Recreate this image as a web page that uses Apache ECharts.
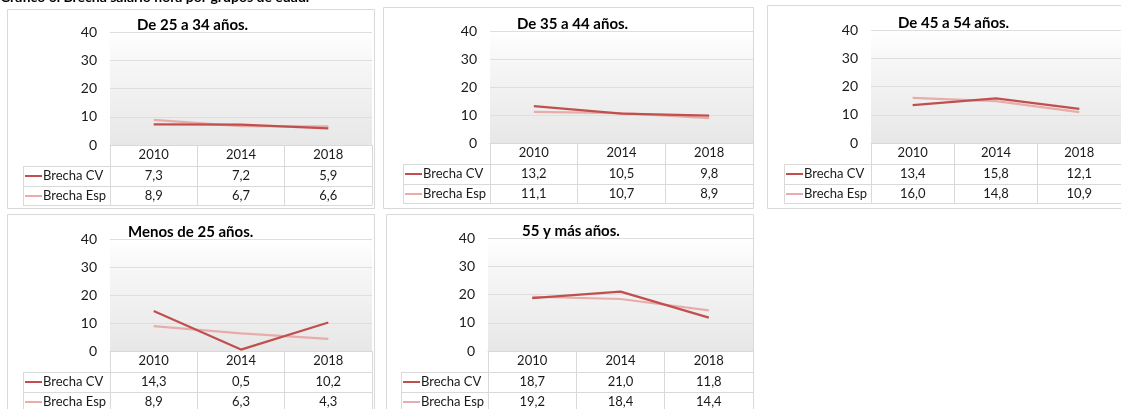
<!DOCTYPE html>
<html>
<head>
<meta charset="utf-8">
<script src="https://cdn.jsdelivr.net/npm/echarts@6/dist/echarts.min.js"></script>
<style>
  html, body { margin: 0; padding: 0; background: #fff; }
  #chart { width: 1121px; height: 409px; }
</style>
</head>
<body>
<div id="chart"></div>
<script>
// data
const heading = 'Gráfico 6. Brecha salario hora por grupos de edad.'
const years = ['2010', '2014', '2018']
const groups = ['De 25 a 34 años.', 'De 35 a 44 años.', 'De 45 a 54 años.', 'Menos de 25 años.', '55 y más años.']
const seriesNames = ['Brecha CV', 'Brecha Esp']
const brechaCV = [
  [7.3, 7.2, 5.9],
  [13.2, 10.5, 9.8],
  [13.4, 15.8, 12.1],
  [14.3, 0.5, 10.2],
  [18.7, 21.0, 11.8]
]
const brechaEsp = [
  [8.9, 6.7, 6.6],
  [11.1, 10.7, 8.9],
  [16.0, 14.8, 10.9],
  [8.9, 6.3, 4.3],
  [19.2, 18.4, 14.4]
]
const yTicks = [0, 10, 20, 30, 40]

;(function () {
  const chart = echarts.init(document.getElementById('chart'))

  // panel geometry: box + plot area
  const panels = [
    { box: [7, 9, 367, 199], plot: [110, 32, 262, 113], titleDx: 27 },
    { box: [383, 7, 370, 201], plot: [490, 31, 263, 112], titleDx: 27 },
    { box: [767, 5, 370, 203], plot: [871, 30, 262, 113], titleDx: 27 },
    { box: [7, 214, 367, 210], plot: [110, 239, 262, 112], titleDx: 18 },
    { box: [386, 214, 367, 210], plot: [488, 238, 265, 113], titleDx: 34 }
  ]

  const colors = ['#c0504d', '#e8adab']
  const font = 'Lato, "Open Sans", sans-serif'
  const lineCol = '#d9d9d9'
  const fmt = v => v.toFixed(1).replace('.', ',')

  const grid = [], xAxis = [], yAxis = [], series = []
  const graphic = []

  graphic.push({
    type: 'text', left: 0, top: -10, z: 10,
    style: { text: heading, font: 'bold 14px ' + font, fill: '#000' }
  })

  panels.forEach(function (p, i) {
    const [bx, by, bw, bh] = p.box
    const [L, T, W, H] = p.plot
    const B = T + H
    const tl = L - 87

    graphic.push({
      type: 'rect', z: -1,
      shape: { x: bx + 0.5, y: by + 0.5, width: bw, height: bh },
      style: { fill: '#fff', stroke: lineCol, lineWidth: 1 }
    })
    graphic.push({
      type: 'text', x: L + p.titleDx, y: T - 7, z: 10,
      style: { text: groups[i], font: 'bold 15px ' + font, fill: '#000', textVerticalAlign: 'middle' }
    })
    // table horizontal rules
    ;[21, 41, 60].forEach(function (dy) {
      graphic.push({
        type: 'line', z: 5,
        shape: { x1: tl, y1: B + dy + 0.5, x2: L + W, y2: B + dy + 0.5 },
        style: { stroke: lineCol, lineWidth: 1 }
      })
    })
    graphic.push({
      type: 'line', z: 5,
      shape: { x1: tl + 0.5, y1: B + 21, x2: tl + 0.5, y2: B + 60 },
      style: { stroke: lineCol, lineWidth: 1 }
    })
    seriesNames.forEach(function (name, k) {
      const cy = B + 31 + k * 20
      graphic.push({
        type: 'line', z: 6,
        shape: { x1: tl + 2, y1: cy, x2: tl + 19, y2: cy },
        style: { stroke: colors[k], lineWidth: 2 }
      })
      graphic.push({
        type: 'text', x: tl + 20, y: cy, z: 6,
        style: { text: name, font: '13px ' + font, fill: '#1a1a1a', textVerticalAlign: 'middle' }
      })
    })

    grid.push({
      left: L, top: T, width: W, height: H,
      show: true, borderWidth: 0,
      backgroundColor: new echarts.graphic.LinearGradient(0, 0, 0, 1, [
        { offset: 0, color: '#ffffff' },
        { offset: 0.3, color: '#f6f6f6' },
        { offset: 1, color: '#e7e7e7' }
      ])
    })

    const xi = xAxis.length
    xAxis.push({
      type: 'category', gridIndex: i, data: years, boundaryGap: true,
      axisLine: { lineStyle: { color: lineCol } },
      axisTick: { show: true, length: 60, lineStyle: { color: lineCol } },
      axisLabel: { margin: 3, fontSize: 13, fontFamily: font, color: '#1a1a1a' }
    })
    ;[brechaCV[i], brechaEsp[i]].forEach(function (vals, k) {
      xAxis.push({
        type: 'category', gridIndex: i, position: 'bottom', offset: 21 + k * 20,
        data: vals.map(fmt), boundaryGap: true,
        axisLine: { show: false }, axisTick: { show: false },
        axisLabel: { margin: 3, fontSize: 13, fontFamily: font, color: '#1a1a1a' }
      })
    })
    yAxis.push({
      type: 'value', gridIndex: i, min: yTicks[0], max: yTicks[yTicks.length - 1], interval: 10,
      axisLine: { show: false }, axisTick: { show: false },
      axisLabel: { margin: 13, fontSize: 14, fontFamily: font, color: '#1a1a1a' },
      splitLine: { lineStyle: { color: '#dedede', width: 1 } }
    })

    ;[brechaCV[i], brechaEsp[i]].forEach(function (vals, k) {
      series.push({
        name: seriesNames[k], type: 'line', xAxisIndex: xi, yAxisIndex: i,
        data: vals, symbol: 'none', silent: true, z: 3 - k,
        lineStyle: { color: colors[k], width: 2.2 }
      })
    })
  })

  chart.setOption({
    animation: false,
    textStyle: { fontFamily: font },
    grid: grid, xAxis: xAxis, yAxis: yAxis, series: series,
    graphic: graphic
  })

  window.addEventListener('resize', function () {
    chart.resize()
  })
})()
</script>
</body>
</html>
